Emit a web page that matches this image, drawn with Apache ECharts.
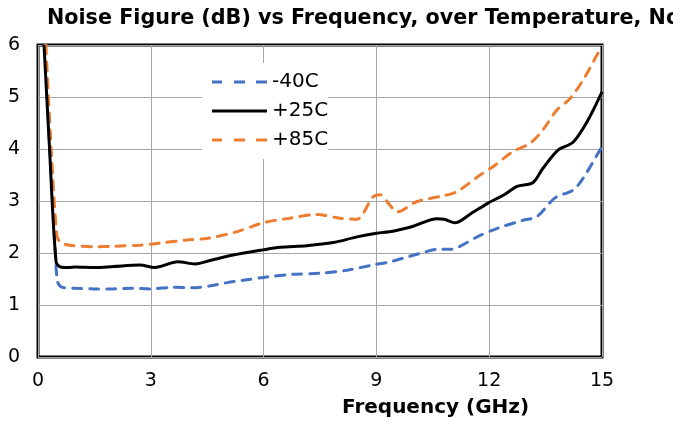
<!DOCTYPE html>
<html>
<head>
<meta charset="utf-8">
<script src="https://cdn.jsdelivr.net/npm/echarts@6/dist/echarts.min.js"></script>
<style>html,body{margin:0;padding:0;background:#fff;}#c{width:673px;height:424px;}</style>
</head>
<body>
<div id="c"></div>
<script>
const xTicks = [0, 3, 6, 9, 12, 15];
const seriesNames = ['-40C', '+25C', '+85C'];

const freqM40 = [0.18,0.3,0.45,0.52,0.65,1.0,1.5,2.0,2.5,2.98,3.6,4.12,4.6,5.03,5.5,6.09,6.78,7.5,8.22,8.91,9.36,9.71,10.2,10.61,10.96,11.2,11.68,12.2,12.9,13.27,13.75,14.23,14.5,15];
const nfM40   = [6.0,4.2,2.2,1.45,1.34,1.32,1.31,1.31,1.32,1.31,1.34,1.33,1.37,1.43,1.48,1.54,1.59,1.61,1.67,1.77,1.83,1.9,2.0,2.07,2.07,2.12,2.31,2.47,2.63,2.7,3.06,3.21,3.44,4.05];

const freqP25 = [0.16,0.3,0.48,0.6,0.8,1.0,1.5,2.0,2.71,3.1,3.72,4.18,4.6,5.19,5.98,6.44,7.15,7.85,8.48,9.0,9.44,10.0,10.61,10.8,11.09,11.5,11.97,12.4,12.74,13.16,13.43,13.83,14.23,14.6,15];
const nfP25   = [6.0,4.1,1.83,1.73,1.72,1.73,1.72,1.74,1.77,1.72,1.83,1.79,1.86,1.96,2.06,2.11,2.14,2.2,2.31,2.38,2.42,2.52,2.66,2.65,2.58,2.75,2.96,3.12,3.28,3.35,3.63,3.98,4.13,4.52,5.1];

const freqP85 = [0.21,0.35,0.5,0.6,0.85,1.5,2.0,2.71,3.24,3.96,4.49,5.29,5.98,6.7,7.42,8.03,8.48,8.91,9.1,9.36,9.55,10.08,10.77,11.14,11.76,12.1,12.63,13.09,13.43,13.8,14.15,14.5,14.9,15];
const nfP85   = [6.0,4.0,2.35,2.2,2.15,2.12,2.13,2.15,2.19,2.25,2.28,2.41,2.58,2.67,2.74,2.67,2.65,3.08,3.12,2.92,2.79,2.99,3.1,3.18,3.5,3.66,3.95,4.11,4.37,4.75,4.97,5.33,5.85,5.95];

function pairs(xs, ys) { return xs.map((x, i) => [x, ys[i]]); }

const FONT = 'DejaVu Sans';
const chart = echarts.init(document.getElementById('c'), null, {renderer: 'canvas'});
const dashIcon = 'path://M0,0h10v3h-10z M22,0h11v3h-11z M44,0h11v3h-11z';
const solidIcon = 'path://M0,0h55v3h-55z';

chart.setOption({
  animation: false,
  backgroundColor: '#fff',
  title: {
    text: 'Noise Figure (dB) vs Frequency, over Temperature, Nominal Bias',
    left: 42, top: 3.5,
    textStyle: {fontFamily: FONT, fontSize: 20.7, fontWeight: 'bold', color: '#000'}
  },
  grid: {left: 38, right: 71, top: 45, bottom: 67, show: true, borderColor: '#000', borderWidth: 3, backgroundColor: 'transparent'},
  legend: {
    left: 202, top: 63, orient: 'vertical',
    itemWidth: 55, itemHeight: 3, itemGap: 9,
    padding: [9, 0, 9, 10],
    backgroundColor: '#fff',
    textStyle: {fontFamily: FONT, fontSize: 20, color: '#000'},
    data: [
      {name: seriesNames[0], icon: dashIcon},
      {name: seriesNames[1], icon: solidIcon},
      {name: seriesNames[2], icon: dashIcon}
    ]
  },
  xAxis: {
    type: 'value', min: xTicks[0], max: xTicks[xTicks.length - 1], interval: 3,
    axisLine: {show: false}, axisTick: {show: false},
    splitLine: {show: true, lineStyle: {color: '#a6a6a6', width: 1}},
    axisLabel: {fontFamily: FONT, fontSize: 19, color: '#000', margin: 15}
  },
  yAxis: {
    type: 'value', min: 0, max: 6, interval: 1,
    axisLine: {show: false}, axisTick: {show: false},
    splitLine: {show: true, lineStyle: {color: '#a6a6a6', width: 1}},
    axisLabel: {fontFamily: FONT, fontSize: 19, color: '#000', margin: 18}
  },
  graphic: [{
    type: 'text', left: 342, top: 398,
    style: {text: 'Frequency (GHz)', font: 'bold 20px "DejaVu Sans"', fill: '#000', textAlign: 'center'}
  }],
  series: [
    {name: seriesNames[0], type: 'line', data: pairs(freqM40, nfM40), showSymbol: false, symbol: 'none', smooth: 0.3, clip: true, z: 3,
     itemStyle: {color: '#4472C4'}, lineStyle: {color: '#4472C4', width: 3, type: [9, 8], cap: 'round'}},
    {name: seriesNames[1], type: 'line', data: pairs(freqP25, nfP25), showSymbol: false, symbol: 'none', smooth: 0.3, clip: true, z: 4,
     itemStyle: {color: '#000'}, lineStyle: {color: '#000', width: 3}},
    {name: seriesNames[2], type: 'line', data: pairs(freqP85, nfP85), showSymbol: false, symbol: 'none', smooth: 0.3, clip: true, z: 3,
     itemStyle: {color: '#ED7D31'}, lineStyle: {color: '#ED7D31', width: 3, type: [9, 8], cap: 'round'}}
  ]
});
</script>
</body>
</html>
